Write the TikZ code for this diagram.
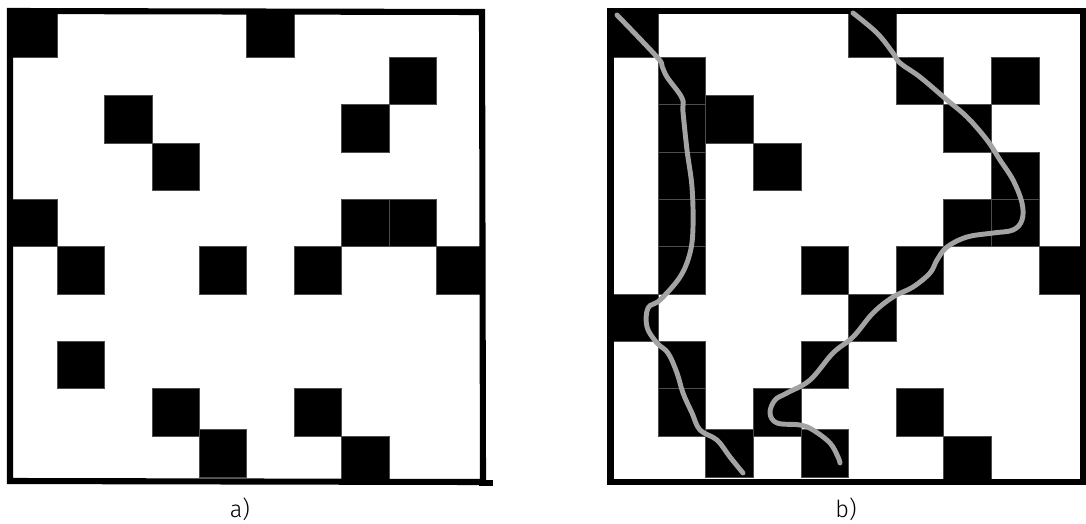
\documentclass[tikz,border=0pt]{standalone}
\usepackage{fontspec}
\setmainfont{Fira Sans}[UprightFont=* Light]
\usepackage{tikz}
\usetikzlibrary{calc}

\tikzset{
  frame/.style={line width=5.2pt, line cap=rect},
  cellbox/.style={fill=black, draw=black!70, line width=0.3pt},
  path/.style={draw=gray!72, line width=4.2pt, line cap=round, line join=round},
  caption/.style={inner sep=0pt, font=\fontsize{20}{21}\selectfont}
}

\begin{document}
\begin{tikzpicture}[x=0.03cm, y=-0.03cm]
  \useasboundingbox (0,0) rectangle (1086,523);
  % a) blocked cells
  \foreach \c/\r in {0/0,5/0,8/1,2/1.81,7/2,3/2.81,0/4,7/4,8/4,1/5,4/5,6/5,9/5,1/7,3/8,6/8,4/8.87,7/9}
    \draw[cellbox] ({9.5+47.4*\c},{10+47.3*\r}) rectangle ++(47.4,47.3);
  \draw[frame] (10,11) -- (482,12) -- (483,482) -- (10,481) -- cycle;
  \draw[frame] (482,483) -- (490,483);
  % b) blocked cells
  \foreach \c/\r in {0/0,5/0,1/1,6/1,8/1,1/2,2/1.81,7/2,1/3,3/2.81,8/3,1/4,7/4,8/4,1/5,4/5,6/5,9/5,0/6,5/6,1/7,4/7,1/8,3/8,6/8,2/8.87,4/8.87,7/9}
    \draw[cellbox] ({610.4+47.6*\c},{10+47.3*\r}) rectangle ++(47.6,47.3);
  \draw[frame] (610.5,11) -- (1083.5,11) -- (1083.5,482) -- (610.5,482) -- cycle;
  % paths through the blocked cells
  \draw[path] plot[smooth, tension=0.6] coordinates {(617,15) (657,57) (662,66) (667,77) (682,98) (683,112) (687,150) (692,187) (693,227) (690,253) (680,277) (660,300) (648,308) (647,327) (657,343) (668,353) (677,373) (683,393) (692,413) (700,430) (717,440) (730,457) (743,473)};
  \draw[path] plot[smooth, tension=0.6] coordinates {(853,13) (877,33) (893,53) (900,63) (920,77) (947,100) (967,117) (987,140) (1000,160) (1013,180) (1022,203) (1022,220) (1013,230) (993,233) (967,237) (947,247) (937,260) (930,273) (913,287) (893,297) (873,313) (853,337) (833,353) (810,380) (787,393) (775,400) (770,413) (777,423) (800,425) (813,430) (830,443) (838,457) (840,463)};
  \node[caption] (capa) at (240,509) {a)};
  \node[caption] (capb) at (846,509) {b)};
\end{tikzpicture}
\end{document}
